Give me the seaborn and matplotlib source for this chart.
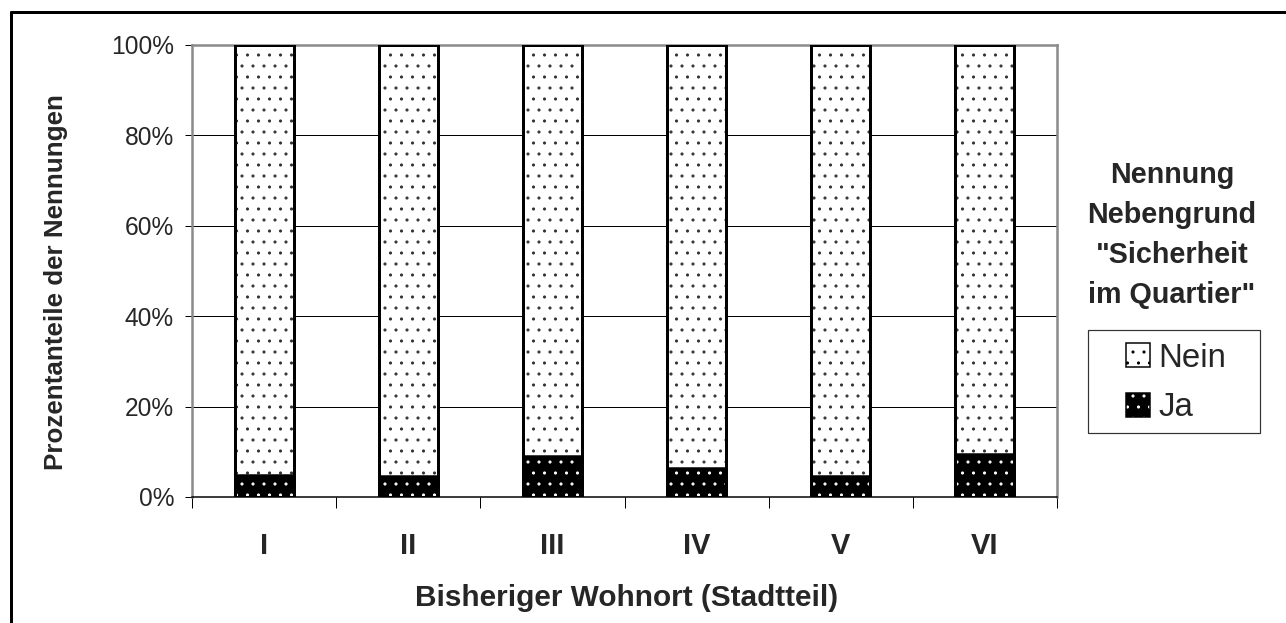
import numpy as np
import matplotlib
matplotlib.use("Agg")
import matplotlib.pyplot as plt
from matplotlib.patches import Patch, Rectangle
from matplotlib.lines import Line2D
from matplotlib.ticker import FixedLocator, PercentFormatter
import pandas as pd
import seaborn as sns

# --- data -------------------------------------------------------------
stadtteile = ["I", "II", "III", "IV", "V", "VI"]
ja = [4.9, 4.6, 9.1, 6.5, 4.6, 9.5]          # Nebengrund genannt (%)
nein = [95.1, 95.4, 90.9, 93.5, 95.4, 90.5]  # nicht genannt (%)
y_ticks = [0, 20, 40, 60, 80, 100]
legend_labels = ["Nein", "Ja"]
legend_title = 'Nennung\nNebengrund\n"Sicherheit\nim Quartier"'
x_title = "Bisheriger Wohnort (Stadtteil)"
y_title = "Prozentanteile der Nennungen"

# --- canvas -----------------------------------------------------------
W, H = 1286, 623
DPI = 66                      # hatch tile = DPI px -> dot pitch of ~11 px


def pt(px):
    """pixel size -> points at the chosen dpi"""
    return px * 72.0 / DPI


sns.set_style("white")
plt.rcParams["font.family"] = ["Liberation Sans", "DejaVu Sans"]
plt.rcParams["hatch.linewidth"] = pt(0.9)

df = pd.DataFrame({"stadtteil": stadtteile, "ja": ja, "nein": nein})
df["gesamt"] = df["ja"] + df["nein"]

fig = plt.figure(figsize=(W / DPI, H / DPI), dpi=DPI)
ax = fig.add_axes([192 / W, 1 - 497 / H, 865 / W, 452 / H])

bar_w = 0.41
# upper segment (Nein): white with grey dots, stacked on top of Ja
sns.barplot(data=df, x="stadtteil", y="gesamt", order=stadtteile, ax=ax,
            color="white", edgecolor="#333333", linewidth=0, hatch=".",
            width=bar_w, saturation=1, errorbar=None, zorder=3)
# lower segment (Ja): black with white dots
sns.barplot(data=df, x="stadtteil", y="ja", order=stadtteile, ax=ax,
            color="black", edgecolor="white", linewidth=0, hatch=".",
            width=bar_w, saturation=1, errorbar=None, zorder=4)
# black outlines of both segments
sns.barplot(data=df, x="stadtteil", y="gesamt", order=stadtteile, ax=ax,
            fill=False, edgecolor="black", linewidth=pt(3),
            width=bar_w, errorbar=None, zorder=5)
sns.barplot(data=df, x="stadtteil", y="ja", order=stadtteile, ax=ax,
            fill=False, edgecolor="black", linewidth=pt(1.5),
            width=bar_w, errorbar=None, zorder=5)

# --- axes -------------------------------------------------------------
ax.set_xlim(-0.5, len(stadtteile) - 0.5)
ax.set_ylim(0, 100)
ax.yaxis.set_major_locator(FixedLocator(y_ticks))
ax.yaxis.set_major_formatter(PercentFormatter(decimals=0))
ax.grid(axis="y", color="black", linewidth=pt(1.0), zorder=0)
ax.set_axisbelow(True)

ax.tick_params(axis="y", which="major", direction="out", length=pt(7),
               width=pt(1), color="black", pad=pt(11),
               labelsize=pt(24.5), left=True)
ax.set_xticks(range(len(stadtteile)))
ax.set_xticklabels(stadtteile, fontweight="bold")
ax.tick_params(axis="x", which="major", length=0, pad=pt(35),
               labelsize=pt(29))
ax.set_xticks(np.arange(-0.5, len(stadtteile)), minor=True)
ax.tick_params(axis="x", which="minor", direction="out", length=pt(11),
               width=pt(1), color="black", bottom=True)

for side in ("left", "top", "right"):
    ax.spines[side].set_color("#8a8a8a")
    ax.spines[side].set_linewidth(pt(2.5))
    ax.spines[side].set_visible(True)
ax.spines["bottom"].set_color("black")
ax.spines["bottom"].set_linewidth(pt(1.5))

ax.set_xlabel(x_title, fontsize=pt(29.8), fontweight="bold")
ax.xaxis.set_label_coords(0.502, (497 - 584) / 452)
ax.set_ylabel(y_title, fontsize=pt(26), fontweight="bold")
ax.yaxis.set_label_coords((68 - 192) / 865, 0.476)

# --- legend -----------------------------------------------------------
fig.text(1172 / W, 1 - 235 / H, legend_title, ha="center", va="center",
         multialignment="center", fontsize=pt(28.8), fontweight="bold",
         linespacing=1.55)

fig.add_artist(Rectangle((1088 / W, 1 - 433 / H), 172 / W, 103 / H,
                         transform=fig.transFigure, facecolor="white",
                         edgecolor="#333333", linewidth=pt(1.2)))

h_nein = Patch(facecolor="white", edgecolor="black", linewidth=pt(1.5),
               hatch=".")
h_ja = (Patch(facecolor="black", edgecolor="white", linewidth=0, hatch="."),
        Patch(fill=False, edgecolor="black", linewidth=pt(1.5)))
fig.legend([h_nein, h_ja], legend_labels, loc="center",
           bbox_to_anchor=(1176 / W, 1 - 383 / H), frameon=False,
           fontsize=pt(33), handlelength=0.72, handleheight=0.72,
           handletextpad=0.25, labelspacing=0.57, borderpad=0)

# --- outer frame (top and left edge) ----------------------------------
fig.add_artist(Line2D([10 / W, 1.0], [1 - 12 / H, 1 - 12 / H],
                      transform=fig.transFigure, color="black",
                      linewidth=pt(3), solid_capstyle="butt"))
fig.add_artist(Line2D([11 / W, 11 / W], [0.0, 1 - 11 / H],
                      transform=fig.transFigure, color="black",
                      linewidth=pt(3), solid_capstyle="butt"))

fig.savefig("out.png", dpi=DPI, facecolor="white")
